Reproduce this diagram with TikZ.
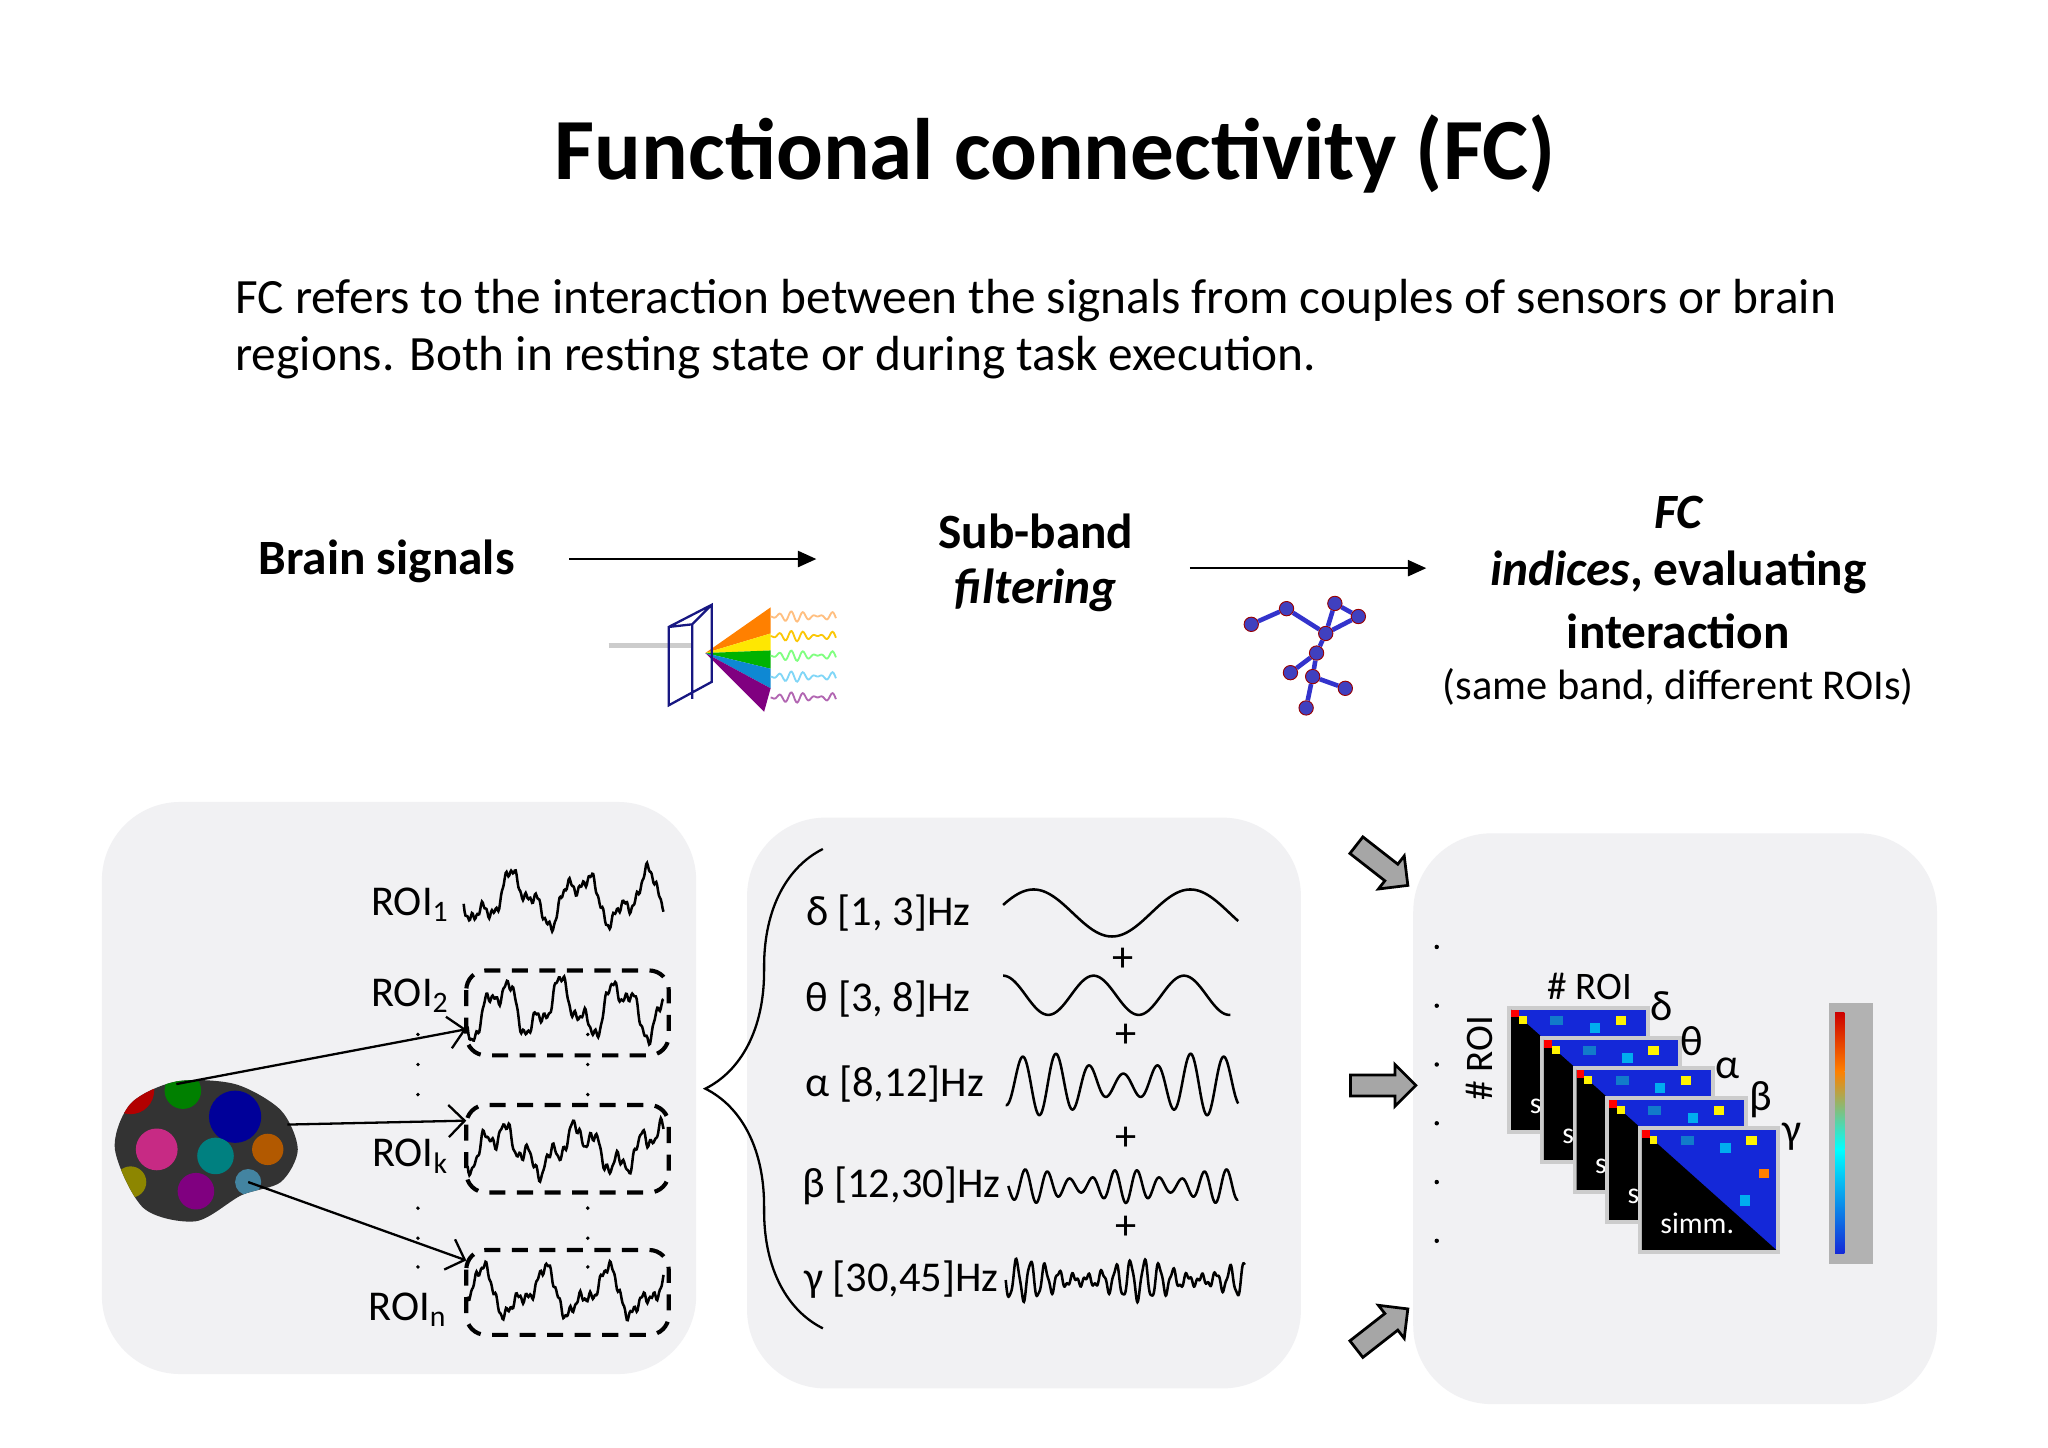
\documentclass[tikz,border=0pt]{standalone}
\usepackage{fontspec}
\setmainfont{Carlito}
\usetikzlibrary{shapes.arrows,decorations.pathreplacing,arrows.meta}
\definecolor{panel}{HTML}{F1F1F3}
\definecolor{mblue}{HTML}{1428D8}
\begin{document}
\begin{tikzpicture}[x=0.02cm,y=-0.02cm,
  roibox/.style={draw,line width=1.8pt,dash pattern=on 7pt off 5pt,rounded corners=0.3cm},
  lbl/.style={font=\fontsize{18.5}{20}\selectfont,anchor=center},
  garrow/.style={single arrow,draw=black,fill=gray!70,line width=1.2pt,inner sep=0.14cm,single arrow head extend=0.16cm,minimum height=1.0cm},
  trace/.style={line width=1.1pt},
  flow/.style={-{Triangle[length=8pt,width=7pt]},line width=0.9pt}]
\useasboundingbox (0,0) rectangle (1568,1108);
\fill[white] (0,0) rectangle (1568,1108);
\node[font=\fontsize{38}{42}\selectfont\bfseries] (title) at (808,118) {Functional connectivity (FC)};
\node[anchor=west,font=\fontsize{21.5}{24}\selectfont] (p1) at (174,230) {FC refers to the interaction between the signals from couples of sensors or brain};
\node[anchor=west,font=\fontsize{21.5}{24}\selectfont] (p2) at (174,274) {regions. Both in resting state or during task execution.};
% top flow
\node[font=\fontsize{21.5}{24}\selectfont\bfseries] (bs) at (296,430) {Brain signals};
\node[font=\fontsize{21.5}{24}\selectfont\bfseries] (sb) at (793,407) {Sub-band};
\node[font=\fontsize{21.5}{24}\selectfont\bfseries\itshape] (filt) at (793,452) {filtering};
\node[font=\fontsize{21.5}{24}\selectfont\bfseries\itshape] (fc) at (1285,392) {FC};
\node[font=\fontsize{21.5}{24}\selectfont\bfseries] (ind) at (1285,438) {\textit{indices}, evaluating};
\node[font=\fontsize{21.5}{24}\selectfont\bfseries] (inter) at (1285,483) {interaction};
\node[font=\fontsize{18.5}{22}\selectfont] (same) at (1285,526) {(same band, different ROIs)};
\coordinate (a1s) at (436,428); \coordinate (a1e) at (625,428);
\coordinate (a2s) at (911,435); \coordinate (a2e) at (1092,435);
\draw[flow] (a1s) -- (a1e);
\draw[flow] (a2s) -- (a2e);
% prism icon
\draw[gray!40,line width=2pt] (466,494) -- (530,494);
\fill[orange] (540,500) -- (590,465) -- (590,485) -- cycle;
\fill[yellow!90!orange] (540,500) -- (590,485) -- (590,498) -- cycle;
\fill[green!70!black] (540,500) -- (590,498) -- (590,512) -- cycle;
\fill[cyan!70!blue] (540,500) -- (590,512) -- (590,527) -- cycle;
\fill[violet] (540,500) -- (590,527) -- (585,545) -- cycle;
\foreach \yy/\c in {472/orange!50,487/yellow!60!orange,502/green!50,518/cyan!50,534/violet!60}
  \draw[\c,line width=0.8pt] plot[domain=0:50,samples=60] ({590+\x},{\yy+4*sin(40*\x)*sin(5*\x)});
\draw[gray!30!blue!60!black,line width=1pt] (512,480) -- (545,463) -- (545,522) -- (512,540) -- cycle (545,463) -- (530,478) (512,480) -- (530,478) -- (530,535);
% network icon
\tikzset{nn/.style={circle,fill=blue!50!gray,draw=red!60!black,inner sep=0pt,minimum size=0.22cm}}
\node[nn] (n1) at (958,478) {}; \node[nn] (n2) at (985,466) {}; \node[nn] (n3) at (1022,462) {};
\node[nn] (n4) at (1040,472) {}; \node[nn] (n5) at (1015,485) {}; \node[nn] (n6) at (1008,500) {};
\node[nn] (n7) at (988,515) {}; \node[nn] (n8) at (1005,518) {}; \node[nn] (n9) at (1030,527) {};
\node[nn] (n10) at (1000,542) {};
\foreach \a/\b in {n1/n2,n2/n5,n3/n4,n3/n5,n5/n6,n6/n7,n6/n8,n8/n9,n8/n10,n4/n5}
  \draw[blue!60!gray,line width=2pt] (\a) -- (\b);
% panels
\fill[panel,rounded corners=1.2cm] (78,614) rectangle (533,1052);
\fill[panel,rounded corners=1.2cm] (572,626) rectangle (996,1063);
\fill[panel,rounded corners=1.2cm] (1082,638) rectangle (1483,1075);
% brain
\begin{scope}
\clip plot[smooth cycle] coordinates {(88,880) (100,845) (135,828) (180,830) (215,850) (228,880) (215,905) (185,915) (150,935) (110,925)};
\fill[black!80] (80,820) rectangle (235,940);
\fill[red!70!black] (100,835) circle (18);
\fill[green!50!black] (140,835) circle (14);
\fill[blue!60!black] (180,855) circle (20);
\fill[magenta!80!black] (120,880) circle (16);
\fill[teal] (165,885) circle (14);
\fill[orange!70!black] (205,880) circle (12);
\fill[violet] (150,912) circle (14);
\fill[olive] (100,905) circle (12);
\fill[cyan!60!black] (190,905) circle (10);
\end{scope}
% ROI labels
\node[lbl] (r1) at (314,693) {ROI\textsubscript{1}};
\node[lbl] (r2) at (314,762) {ROI\textsubscript{2}};
\node[lbl] (rk) at (314,885) {ROI\textsubscript{k}};
\node[lbl] (rn) at (312,1003) {ROI\textsubscript{n}};
\foreach \yy in {792,815,838,925,948,970} {\fill (320,\yy) circle (1.5); \fill (450,\yy) circle (1.5);}
% traces
\draw[trace] plot[domain=0:153,samples=220] ({355+\x},{688+15*sin(7*\x)+8*sin(17*\x+30)+3*sin(43*\x)+2*sin(97*\x)});
\draw[trace] plot[domain=0:150,samples=220] ({358+\x},{772+16*sin(8*\x+60)+9*sin(19*\x)+3*sin(47*\x)+2*sin(91*\x)});
\draw[trace] plot[domain=0:150,samples=220] ({358+\x},{880+13*sin(6*\x+120)+8*sin(21*\x+10)+3*sin(53*\x)+2*sin(87*\x)});
\draw[trace] plot[domain=0:150,samples=220] ({358+\x},{990+14*sin(7.5*\x+200)+8*sin(15*\x+70)+3*sin(45*\x)+2*sin(95*\x)});
\draw[roibox] (357,743) rectangle (512,808);
\draw[roibox] (357,846) rectangle (512,913);
\draw[roibox] (357,957) rectangle (512,1022);
\coordinate (t2) at (357,788); \coordinate (tk) at (357,858); \coordinate (tn) at (357,965);
\coordinate (s2) at (135,830); \coordinate (sk) at (220,861); \coordinate (sn) at (190,905);
\draw[-{Straight Barb[length=7pt]},line width=1pt] (s2) -- (t2);
\draw[-{Straight Barb[length=7pt]},line width=1pt] (sk) -- (tk);
\draw[-{Straight Barb[length=7pt]},line width=1pt] (sn) -- (tn);
% brace
\coordinate (bb) at (630,1017); \coordinate (bt) at (630,650);
\draw[line width=1pt,decorate,decoration={brace,amplitude=1.8cm}] (bb) -- (bt);
% bands
\node[lbl] (d) at (680,699) {δ [1, 3]Hz};
\node[lbl] (th) at (680,765) {θ [3, 8]Hz};
\node[lbl] (al) at (685,830) {α [8,12]Hz};
\node[lbl] (be) at (690,908) {β [12,30]Hz};
\node[lbl] (ga) at (690,980) {γ [30,45]Hz};
\draw[trace] plot[domain=0:180,samples=150] ({768+\x},{699-18*sin(\x*3+20)});
\draw[trace] plot[domain=0:174,samples=150] ({768+\x},{762+15*sin(\x*5.2+270)});
\draw[trace] plot[domain=0:178,samples=300] ({770+\x},{830+(16+8*sin(3*\x))*sin(\x*14+90)});
\draw[trace] plot[domain=0:176,samples=400] ({772+\x},{908+(9+4*sin(5*\x))*sin(\x*21)});
\draw[trace] plot[domain=0:183,samples=500] ({770+\x},{980+(9+6*sin(4*\x+40))*sin(\x*33)+2*sin(83*\x)});
\node[lbl] (pl1) at (860,735) {+};
\node[lbl] (pl2) at (862,793) {+};
\node[lbl] (pl3) at (862,872) {+};
\node[lbl] (pl4) at (862,940) {+};
% gray block arrows
\node[garrow,rotate=-38] (g1) at (1055,660) {};
\node[garrow] (g2) at (1055,831) {};
\node[garrow,rotate=38] (g3) at (1055,1020) {};
% right panel
\foreach \yy in {725,770,815,860,905,950} \fill (1100,\yy) circle (1.7);
\node[font=\fontsize{17}{18}\selectfont,rotate=90] (rr) at (1133,810) {\# ROI};
\node[font=\fontsize{17}{18}\selectfont] (rc) at (1217,755) {\# ROI};
\foreach \i in {0,1,2,3,4} {
  \begin{scope}[shift={({1157+25*\i},{773+23*\i})}]
   \fill[gray!40] (-3,-3) rectangle (106,95);
   \fill[mblue] (0,0) rectangle (103,92);
   \fill[cyan] (60,10) rectangle (68,18); \fill[yellow] (80,5) rectangle (88,12);
   \fill[cyan!60!blue] (30,5) rectangle (40,12); \fill[orange] (90,30) rectangle (97,37);
   \fill[cyan] (75,50) rectangle (83,58);
   \fill[black] (0,0) -- (103,92) -- (0,92) -- cycle;
   \fill[red] (0,0) rectangle (6,6); \fill[yellow] (6,5) rectangle (12,11);
   \node[font=\fontsize{13}{14}\selectfont,text=white,anchor=west] at (8,72) {simm.};
  \end{scope}
}
\node[lbl] (gd) at (1272,770) {δ};
\node[lbl] (gt) at (1295,797) {θ};
\node[lbl] (ga2) at (1323,818) {α};
\node[lbl] (gb) at (1348,842) {β};
\node[lbl] (gg) at (1372,870) {γ};
% colorbar
\fill[gray!60] (1400,768) rectangle (1434,968);
\shade[top color=red!80!black,bottom color=orange] (1405,775) rectangle (1412,820);
\shade[top color=orange,bottom color=cyan] (1405,820) rectangle (1412,880);
\shade[top color=cyan,bottom color=mblue] (1405,880) rectangle (1412,960);
\end{tikzpicture}
\end{document}
